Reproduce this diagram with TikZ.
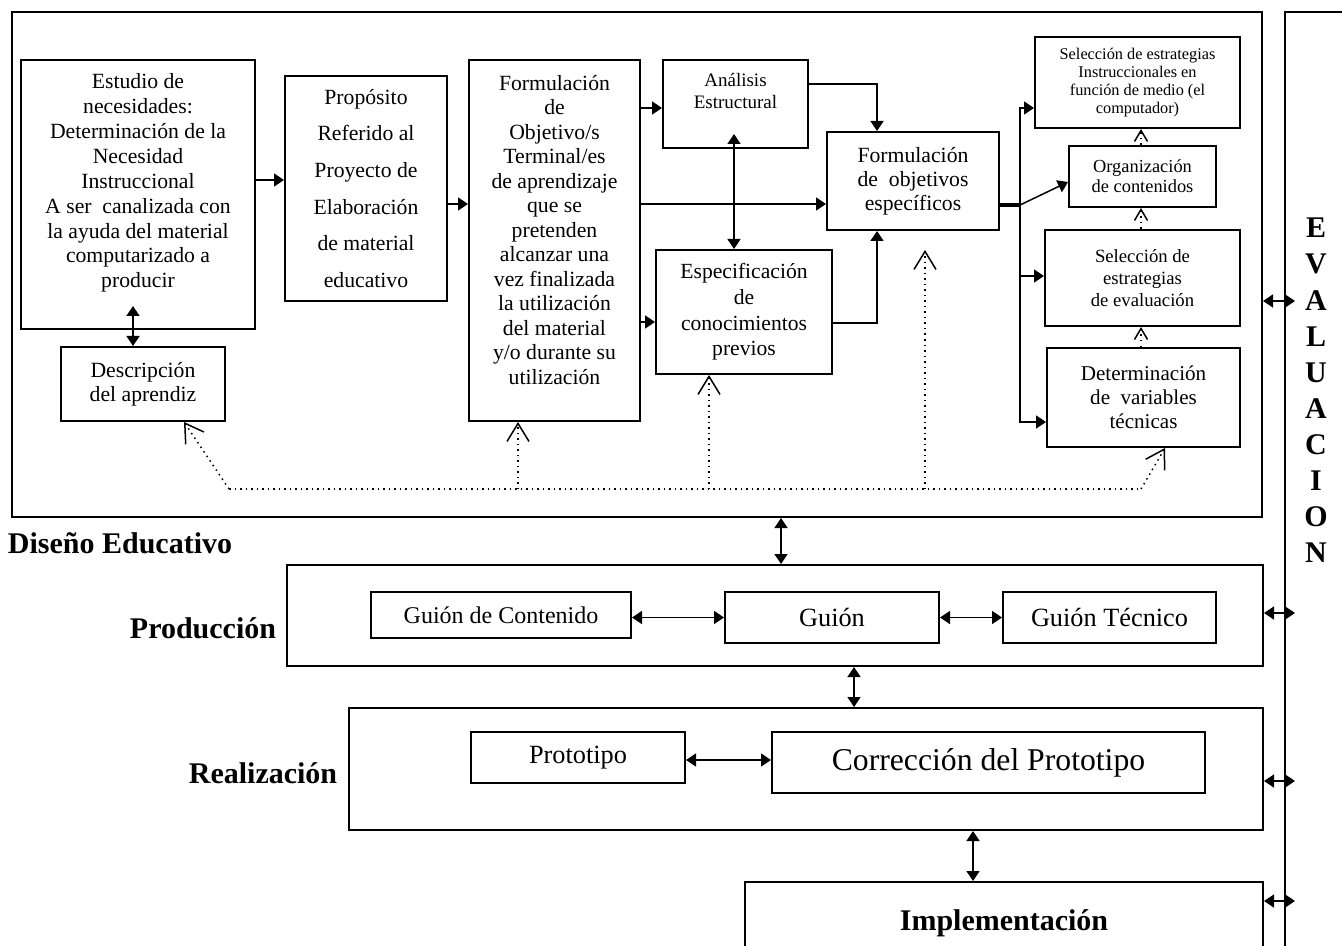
\documentclass[tikz,border=0pt]{standalone}
\usepackage{fontspec}
\setmainfont{Liberation Serif}
\usetikzlibrary{arrows.meta}
\newcommand\letra[2]{\fontsize{#1}{#2}\selectfont}
\tikzset{caja/.style 2 args={draw,line width=1pt,minimum width=#1*.5pt,minimum height=#2*.5pt,inner sep=0pt,align=center},
	texto/.style={align=center,inner sep=0pt},
	normal/.style={font=\letra{10.85}{12.45}},
	titulo/.style={font=\bfseries\letra{15}{18.05}},
	flecha/.style={line width=.75pt,-{Triangle[length=5pt,width=6.5pt]}},
	doble/.style={line width=.75pt,{Triangle[length=5pt,width=6.5pt]}-{Triangle[length=5pt,width=6.5pt]}},
	retro/.style={dotted,line width=.75pt,-{Straight Barb[length=9pt,width=11pt]}},
	retrochica/.style={dotted,line width=.75pt,-{Straight Barb[length=5.5pt,width=6.5pt]}}}
\begin{document}
\begin{tikzpicture}[x=.5pt,y=-.5pt]
\useasboundingbox (0,0) rectangle (1342,946);
\node[caja={1250}{505}] (diseno) at (637,264.5) {};
\node[caja={234}{269}] (estudio) at (138,194.5) {};
\node[texto,normal] (estudiot) at (138,183) {Estudio de\\necesidades:\\Determinación de la\\Necesidad\\Instruccional\\A ser~ canalizada con\\la ayuda del material\\computarizado a\\producir};
\node[caja={162}{225},font=\letra{10.85}{18.35}] (proposito) at (366,188.5) {Propósito\\Referido al\\Proyecto de\\Elaboración\\de material\\educativo};
\node[caja={171}{361}] (formobj) at (554.5,240.5) {};
\node[texto,normal,font=\letra{10.85}{12.25}] (formobjt) at (554.5,230) {Formulación\\de\\Objetivo/s\\Terminal/es\\de aprendizaje\\que se\\pretenden\\alcanzar una\\vez finalizada\\la utilización\\del material\\y/o durante su\\utilización};
\node[caja={164}{74},normal,font=\letra{10.85}{12}] (descripcion) at (143,384) {Descripción\\del aprendiz};
\node[caja={145}{88}] (analisis) at (735.5,104) {};
\node[texto,font=\letra{9.5}{11}] (analisist) at (735.5,91) {Análisis\\Estructural};
\node[caja={172}{98},normal,font=\letra{10.85}{12}] (especific) at (913,181) {Formulación\\de~ objetivos\\específicos};
\node[caja={176}{124},normal,font=\letra{10.8}{12.8}] (conoc) at (744,312) {Especificación\\de\\conocimientos\\previos};
\node[caja={205}{91},font=\letra{8.15}{9}] (seleinst) at (1137.5,82.5) {Selección de estrategias\\Instruccionales en\\función de medio (el\\computador)};
\node[caja={147}{61},font=\letra{9.2}{10}] (organiz) at (1142.5,176.5) {Organización\\de contenidos};
\node[caja={195}{96},font=\letra{9.35}{11}] (seleval) at (1142.5,278) {Selección de\\estrategias\\de evaluación};
\node[caja={193}{99},font=\letra{10.55}{12}] (determ) at (1143.5,397.5) {Determinación\\de~ variables\\técnicas};
\draw[flecha] (estudio.east |- 0,180) -- (proposito.west |- 0,180);
\draw[flecha] (proposito.east |- 0,204) -- (formobj.west |- 0,204);
\draw[flecha] (formobj.east |- 0,108) -- (analisis.west |- 0,108);
\draw[flecha] (formobj.east |- 0,204) -- (especific.west |- 0,204);
\draw[flecha] (formobj.east |- 0,322) -- (conoc.west |- 0,322);
\draw[flecha] (analisis.east |- 0,84) -| (877,0 |- especific.north);
\draw[flecha] (conoc.east |- 0,323) -| (877,0 |- especific.south);
\draw[doble] ([yshift=7.5pt]734,0 |- analisis.south) -- (734,0 |- conoc.north);
\draw[doble] ([yshift=12pt]133,0 |- estudio.south) -- (133,0 |- descripcion.north);
\coordinate (bif) at (1020,205);
\draw[line width=1.6pt] (especific.east |- bif) -- (bif);
\draw[flecha] (bif) |- (seleinst.west |- 0,108);
\draw[flecha] (bif) |- (seleval.west |- 0,276);
\draw[flecha] (bif) |- (determ.west |- 0,422);
\draw[flecha] (bif) -- (organiz.west |- 0,182);
\draw[retrochica] (1141,0 |- organiz.north) -- (1141,0 |- seleinst.south);
\draw[retrochica] (1141,0 |- seleval.north) -- (1141,0 |- organiz.south);
\draw[retrochica] (1141,0 |- determ.north) -- (1141,0 |- seleval.south);
\coordinate (r0) at (229,489);
\coordinate (r1) at (1141,489);
\coordinate (pe) at (925,250);
\draw[dotted,line width=.75pt] (r0) -- (r1);
\draw[retro] (r0) -- (184,0 |- descripcion.south);
\draw[retro] (r1) -- (1165,0 |- determ.south);
\draw[retro] (518,0 |- r0) -- (518,0 |- formobj.south);
\draw[retro] (709,0 |- r0) -- (709,0 |- conoc.south);
\draw[retro] (pe |- r0) -- (pe);
\node[texto,titulo] (ldiseno) at (120,543) {Diseño Educativo};
\node[caja={976}{101}] (produccion) at (775,615.5) {};
\node[texto,titulo] (lproduccion) at (203,628) {Producción};
\node[caja={260}{46},font=\letra{12}{14}] (gcont) at (501,615) {Guión de Contenido};
\node[caja={214}{51},font=\letra{13.15}{15}] (guion) at (832,617.5) {Guión};
\node[caja={213}{51},font=\letra{13.15}{15}] (gtec) at (1109.5,617.5) {Guión Técnico};
\draw[doble] (gcont.east |- guion.west) -- (guion.west);
\draw[doble] (guion.east) -- (gtec.west);
\node[caja={914}{122}] (realizacion) at (806,769) {};
\node[texto,titulo] (lrealizacion) at (263,773) {Realización};
\node[caja={214}{51},font=\letra{13.15}{15}] (prototipo) at (578,757.5) {Prototipo};
\node[caja={433}{61},font=\letra{15.85}{18}] (correccion) at (988.5,762.5) {Corrección del Prototipo};
\draw[doble] (prototipo.east |- 0,760) -- (correccion.west |- 0,760);
\node[caja={518}{82},titulo] (implementacion) at (1004,923) {Implementación};
\draw[doble] (781,0 |- diseno.south) -- (781,0 |- produccion.north);
\draw[doble] (854,0 |- produccion.south) -- (854,0 |- realizacion.north);
\draw[doble] (973,0 |- realizacion.south) -- (973,0 |- implementacion.north);
\draw[line width=1pt] (1350,12) -- (1285,12) -- (1285,960);
\node[texto,titulo] (evaluacion) at (1316,390.5) {E\\V\\A\\L\\U\\A\\C\\I\\O\\N};
\coordinate (ev1) at (1295,301);
\coordinate (ev2) at (1295,613);
\coordinate (ev3) at (1295,781);
\coordinate (ev4) at (1295,901);
\draw[doble] (diseno.east |- ev1) -- (ev1);
\draw[doble] (produccion.east |- ev2) -- (ev2);
\draw[doble] (realizacion.east |- ev3) -- (ev3);
\draw[doble] (implementacion.east |- ev4) -- (ev4);
\end{tikzpicture}
\end{document}
